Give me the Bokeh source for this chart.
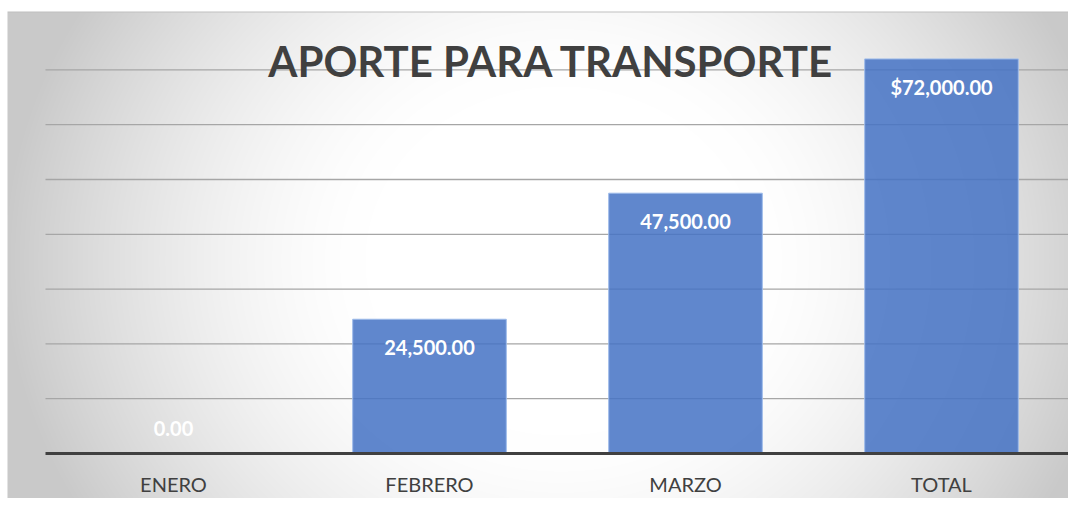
import numpy as np
from bokeh.plotting import figure
from bokeh.models import ColumnDataSource, Label
from bokeh.core.properties import value
from bokeh.embed import file_html
from bokeh.resources import INLINE

# ---- data ----
categories = ["ENERO", "FEBRERO", "MARZO", "TOTAL"]
amounts = [0, 24500, 47500, 72000]
label_prefix = ["", "", "", "$"]
grid_values = [10000, 20000, 30000, 40000, 50000, 60000, 70000]
title_text = "APORTE PARA TRANSPORTE"

# ---- geometry (screen pixel calibration) ----
W, H = 1068, 498
PX_LEFT = 45.0         # x of the plot area start
CAT_W = 256.0          # px per category
BASE_Y = 453.0         # y of value 0
PX_PER_UNIT = 54.8 / 10000.0
BOX_X, BOX_Y = 7, 11   # top-left of the chart box

x_start = (0 - PX_LEFT) / CAT_W
x_end = (W - PX_LEFT) / CAT_W
y_end = BASE_Y / PX_PER_UNIT
y_start = (BASE_Y - H) / PX_PER_UNIT

p = figure(width=W, height=H, x_range=(x_start, x_end), y_range=(y_start, y_end),
           output_backend="svg", toolbar_location=None, min_border=0)
p.xaxis.visible = False
p.yaxis.visible = False
p.xgrid.visible = False
p.ygrid.visible = False
p.outline_line_color = None
p.background_fill_color = "white"
p.border_fill_color = "white"

# ---- radial gradient background (chart box) ----
bw, bh = W - BOX_X, H - BOX_Y
gx = np.arange(bw) + BOX_X
gy = np.arange(bh) + BOX_Y
PX, PY = np.meshgrid(gx, gy[::-1])
t = np.sqrt(((PX - 560) / 560.0) ** 2 + ((PY - 260) / 500.0) ** 2)
s = np.clip((t - 0.35) / 0.65, 0, 1) ** 1.5
g = (255 - 54 * s).astype(np.uint32)
g[-1, :] = 192   # top edge line of the box
img = (255 << 24) | (g << 16) | (g << 8) | g
bx0 = (BOX_X - PX_LEFT) / CAT_W
by1 = (BASE_Y - BOX_Y) / PX_PER_UNIT
p.image_rgba(image=[img.astype(np.uint32)], x=bx0, y=y_start,
             dw=x_end - bx0, dh=by1 - y_start)

# ---- gridlines ----
n = len(categories)
p.segment(x0=[0] * len(grid_values), x1=[n] * len(grid_values),
          y0=grid_values, y1=grid_values, line_color="#a6a6a6", line_width=1.3)

# ---- bars ----
xc = [i + 0.5 for i in range(n)]
labels = [f"{pre}{v:,.2f}" for pre, v in zip(label_prefix, amounts)]
offs = [28 if v > 0 else -25 for v in amounts]
src = ColumnDataSource(dict(x=xc, top=amounts, cat=categories, lab=labels, off=offs))
p.vbar(x="x", top="top", bottom=0, width=0.6, source=src,
       fill_color="#4472C4", fill_alpha=0.85, line_color="#9dbbea", line_width=1)

# baseline
p.segment(x0=[0], x1=[n], y0=[0], y1=[0], line_color="#404040", line_width=3)

# data labels
p.text(x="x", y="top", text="lab", source=src, text_align="center",
       text_baseline="middle", y_offset="off", text_color="white",
       text_font=value("Lato"), text_font_style="bold", text_font_size="20px")

# category labels
p.text(x="x", y=0, text="cat", source=src, text_align="center",
       text_baseline="middle", y_offset=30, text_color="#404040",
       text_font=value("Lato"), text_font_size="20px")

# title
p.add_layout(Label(x=551, y=438, x_units="screen", y_units="screen",
                   text=title_text, text_align="center", text_baseline="alphabetic",
                   text_color="#404040", text_font="Lato", text_font_style="bold",
                   text_font_size="42px"))

open("out.html", "w").write(file_html(p, INLINE))
